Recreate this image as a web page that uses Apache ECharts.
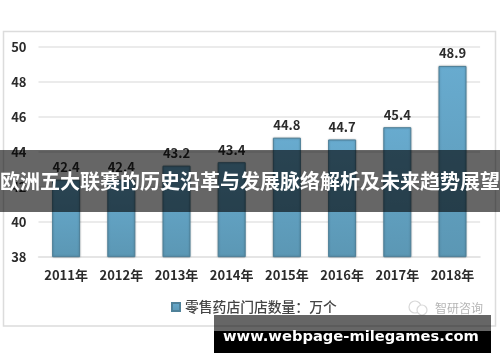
<!DOCTYPE html>
<html>
<head>
<meta charset="utf-8">
<style>
html,body{margin:0;padding:0;background:#fff;}
#main{width:500px;height:362px;}
</style>
<script src="https://cdn.jsdelivr.net/npm/echarts@6/dist/echarts.min.js"></script>
</head>
<body>
<div id="main"></div>
<script>
var years = ['2011年','2012年','2013年','2014年','2015年','2016年','2017年','2018年'];
var stores = [42.4,42.4,43.2,43.4,44.8,44.7,45.4,48.9];
var seriesName = '零售药店门店数量：万个';
var bannerTitle = '欧洲五大联赛的历史沿革与发展脉络解析及未来趋势展望';
var footerText = 'www.webpage-milegames.com';
var markText = '智研咨询';

var labelFont = '"Noto Sans CJK SC","Noto Sans",sans-serif';

var option = {
    animation: false,
    grid: {
        left: 38.5,
        right: 19.9,
        top: 46.7,
        bottom: 105.3
    },
    legend: {
        data: [{name: seriesName, icon: 'rect'}],
        left: 166,
        top: 295,
        itemWidth: 8,
        itemHeight: 8,
        itemGap: 4,
        textStyle: {
            color: '#444',
            fontSize: 13.8,
            fontFamily: labelFont,
            fontWeight: 500
        }
    },
    xAxis: {
        type: 'category',
        data: years,
        axisTick: {show: false},
        axisLine: {show: true, lineStyle: {color: '#e4e4e4', width: 1.5}},
        axisLabel: {
            interval: 0,
            color: '#2b2b2b',
            fontSize: 13,
            fontWeight: 'bold',
            fontFamily: labelFont,
            margin: 12
        }
    },
    yAxis: {
        type: 'value',
        min: 38,
        max: 50,
        interval: 2,
        axisLine: {show: false},
        axisTick: {show: false},
        splitLine: {lineStyle: {color: '#e4e4e4', width: 1.5}},
        axisLabel: {
            color: '#2b2b2b',
            fontSize: 13,
            fontWeight: 'bold',
            fontFamily: labelFont,
            margin: 12
        }
    },
    series: [{
        name: seriesName,
        type: 'bar',
        data: stores,
        barWidth: 28,
        itemStyle: {
            color: new echarts.graphic.LinearGradient(0, 0, 0, 1, [
                {offset: 0, color: '#68abcf'},
                {offset: 1, color: '#5b97b4'}
            ]),
            borderColor: '#4f8199',
            borderWidth: 1,
            shadowColor: 'rgba(0,0,0,0.25)',
            shadowBlur: 2
        },
        label: {
            show: true,
            position: 'top',
            distance: 6,
            color: '#2b2b2b',
            fontSize: 13,
            fontWeight: 'bold',
            fontFamily: labelFont
        }
    }],
    graphic: [
        // outer frame of the chart
        {type: 'rect', z: 0, shape: {x: 3.5, y: 31.5, width: 492, height: 294.5},
            style: {fill: 'none', stroke: '#dcdcdc', lineWidth: 1.5}},
        // watermark
        {type: 'circle', z: 5, shape: {cx: 415, cy: 307, r: 6}, style: {fill: 'none', stroke: '#d8d8d8', lineWidth: 1.2}},
        {type: 'circle', z: 5, shape: {cx: 422, cy: 310, r: 5}, style: {fill: '#fff', stroke: '#d8d8d8', lineWidth: 1.2}},
        {type: 'text', z: 5, style: {x: 435, y: 308, text: markText, fill: '#b5b5b5', fontSize: 12, fontFamily: labelFont, verticalAlign: 'middle'}},
        // overlay band with title
        {type: 'rect', z: 50, shape: {x: 0, y: 150, width: 500, height: 62}, style: {fill: 'rgba(0,0,0,0.6)'}},
        {type: 'text', z: 51, style: {x: 250, y: 181, text: bannerTitle, fill: '#fff', fontSize: 20, fontWeight: 'bold', fontFamily: labelFont, align: 'center', verticalAlign: 'middle'}},
        // footer box
        {type: 'rect', z: 50, shape: {x: 214, y: 315, width: 277, height: 16}, style: {fill: 'rgba(0,0,0,0.6)'}},
        {type: 'rect', z: 50, shape: {x: 214, y: 331, width: 277, height: 22}, style: {fill: '#000'}},
        {type: 'text', z: 51, style: {x: 223, y: 337, text: footerText, fill: '#fff', fontSize: 14.7, fontWeight: 'bold', fontFamily: 'DejaVu Sans', verticalAlign: 'middle'}}
    ]
};

var myChart = echarts.init(document.getElementById('main'));
myChart.setOption(option);
</script>
</body>
</html>
